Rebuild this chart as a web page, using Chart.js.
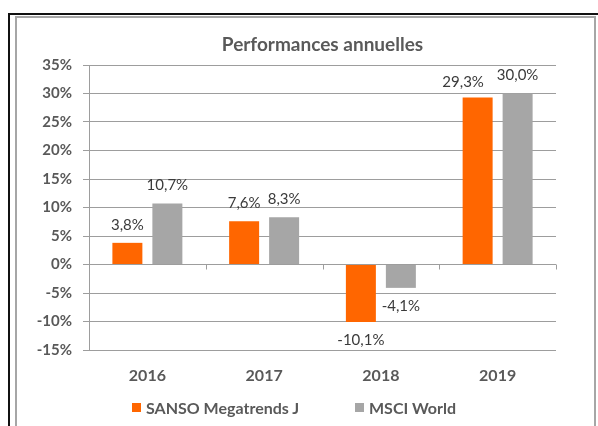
<!DOCTYPE html>
<html>
<head>
<meta charset="utf-8">
<script src="https://cdn.jsdelivr.net/npm/chart.js@4.4.0/dist/chart.umd.min.js"></script>
<style>
  body { margin: 0; background: #fff; }
  #wrap { position: relative; width: 598px; height: 426px; overflow: hidden; font-family: Lato, "Open Sans", sans-serif; }
  .outer { position: absolute; left: 8px; top: 13px; width: 700px; height: 600px;
           border-left: 2px solid #111; border-top: 2px solid #111; }
  .inner { position: absolute; left: 15px; top: 16px; width: 577px; height: 600px;
           border: 2px solid #a6a6a6; border-bottom: none; }
  canvas { position: absolute; left: 0; top: 0; }
  #legend { position: absolute; left: 132px; top: 398px; display: flex;
            font-size: 16px; font-weight: bold; color: #595959; line-height: 19px; }
  #legend .item { display: flex; align-items: center; white-space: nowrap; }
  #legend .item:first-child { width: 223px; }
  #legend .box { width: 9px; height: 9px; margin-right: 5px; }
</style>
</head>
<body>
<div id="wrap">
  <div class="outer"></div>
  <div class="inner"></div>
  <canvas id="chart" width="598" height="426"></canvas>
  <div id="legend"></div>
</div>
<script>
const years = ['2016', '2017', '2018', '2019'];
const sansoValues = [3.8, 7.6, -10.1, 29.3];
const msciValues = [10.7, 8.3, -4.1, 30.0];
const seriesNames = ['SANSO Megatrends J', 'MSCI World'];
const yMin = -15;
const yMax = 35;
const yStep = 5;

const fontFamily = 'Lato, "Open Sans", sans-serif';
const gridColor = '#9d9d9d';

// value labels above / below each bar, pushed apart when they collide
const valueLabels = {
  id: 'valueLabels',
  afterDatasetsDraw(chart) {
    const ctx = chart.ctx;
    ctx.save();
    ctx.font = '15px ' + fontFamily;
    ctx.fillStyle = '#3a3a3a';
    ctx.textAlign = 'center';
    ctx.textBaseline = 'middle';
    const metas = chart.data.datasets.map((ds, i) => chart.getDatasetMeta(i));
    years.forEach((yr, j) => {
      const labels = chart.data.datasets.map((ds, i) => {
        const v = ds.data[j];
        const bar = metas[i].data[j];
        const txt = v.toFixed(1).replace('.', ',') + '%';
        return { txt, x: bar.x, y: v >= 0 ? bar.y - 18 : bar.y + 18, w: ctx.measureText(txt).width };
      });
      const a = labels[0], b = labels[1];
      const minGap = (a.w + b.w) / 2 + 4;
      if (Math.abs(a.y - b.y) < 16 && b.x - a.x < minGap) {
        a.x = b.x - (a.w + b.w) / 2 - 13;
        a.y += 3;
      }
      labels.forEach((l) => ctx.fillText(l.txt, l.x, l.y));
    });
    ctx.restore();
  }
};

// small tick marks on the zero line between categories
const zeroTicks = {
  id: 'zeroTicks',
  beforeDatasetsDraw(chart) {
    const { ctx, chartArea, scales } = chart;
    const x = scales.x;
    const y0 = scales.y.getPixelForValue(0);
    ctx.save();
    ctx.strokeStyle = gridColor;
    ctx.lineWidth = 1;
    ctx.beginPath();
    for (let i = 0; i < years.length; i++) {
      const px = i < years.length - 1
        ? (x.getPixelForValue(i) + x.getPixelForValue(i + 1)) / 2
        : chartArea.right;
      ctx.moveTo(Math.round(px) + 0.5, y0);
      ctx.lineTo(Math.round(px) + 0.5, y0 + 5);
    }
    ctx.stroke();
    ctx.restore();
  }
};

// legend built from the datasets, as html
const htmlLegend = {
  id: 'htmlLegend',
  afterUpdate(chart) {
    const el = document.getElementById('legend');
    el.innerHTML = '';
    chart.data.datasets.forEach((ds) => {
      const item = document.createElement('div');
      item.className = 'item';
      const box = document.createElement('span');
      box.className = 'box';
      box.style.background = ds.backgroundColor;
      item.appendChild(box);
      item.appendChild(document.createTextNode(ds.label));
      el.appendChild(item);
    });
  }
};

new Chart(document.getElementById('chart'), {
  type: 'bar',
  data: {
    labels: years,
    datasets: [
      { label: seriesNames[0], data: sansoValues, backgroundColor: '#ff6600' },
      { label: seriesNames[1], data: msciValues, backgroundColor: '#a6a6a6' },
    ],
  },
  options: {
    responsive: false,
    devicePixelRatio: 1,
    animation: false,
    categoryPercentage: 0.685,
    barPercentage: 0.75,
    layout: { padding: { left: 0, right: 42, top: 0, bottom: 40 } },
    plugins: {
      tooltip: { enabled: false },
      legend: { display: false },
      title: {
        display: true,
        fullSize: false,
        text: 'Performances annuelles',
        color: '#595959',
        font: { family: fontFamily, size: 19, weight: 'bold' },
        padding: { top: 33.6, bottom: 8.6 },
      },
    },
    scales: {
      x: {
        grid: { display: false, drawTicks: false },
        border: { display: false },
        ticks: {
          padding: 16,
          color: '#595959',
          font: { family: fontFamily, size: 16, weight: 'bold' },
        },
        afterFit(scale) { scale.height = 36; },
      },
      y: {
        min: yMin,
        max: yMax,
        grid: { color: gridColor, tickLength: 6 },
        border: { color: gridColor },
        ticks: {
          stepSize: yStep,
          padding: 11,
          color: '#595959',
          font: { family: fontFamily, size: 15, weight: 'bold' },
          callback: (v) => v + '%',
        },
        afterFit(scale) { scale.width = 89; },
      },
    },
  },
  plugins: [zeroTicks, valueLabels, htmlLegend],
});
</script>
</body>
</html>
